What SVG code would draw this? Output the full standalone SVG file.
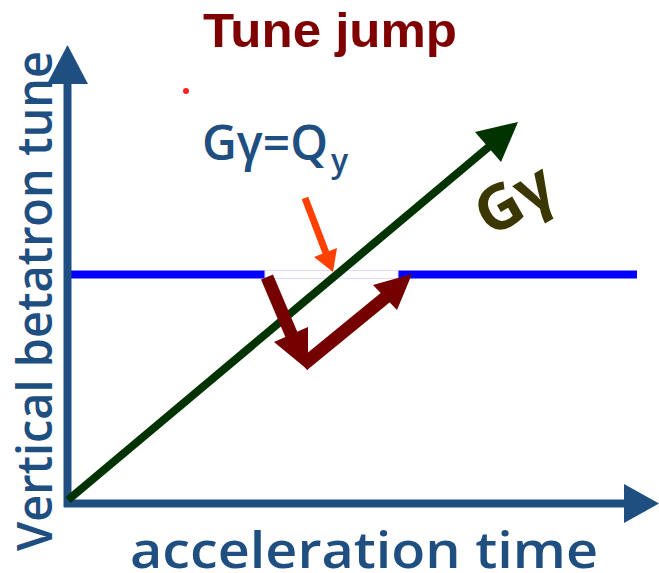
<svg xmlns="http://www.w3.org/2000/svg" width="659" height="573" viewBox="0 0 659 573">
<style>
.axis{stroke:#1f4e80;stroke-width:8;fill:none}
.axhead{fill:#1f4e80}
.lbl{font-family:"Open Sans","Liberation Sans",sans-serif;fill:#1f4e80;font-weight:600}
</style>
<rect width="659" height="573" fill="#fff"/>
<g id="title"><text x="330" y="47" text-anchor="middle" font-family="'Liberation Sans',Arial,sans-serif" font-weight="bold" font-size="48" fill="#7f0000" textLength="254" lengthAdjust="spacingAndGlyphs">Tune jump</text></g>
<g id="dot"><circle cx="186" cy="91" r="3" fill="#ff2020"/></g>
<g id="tuneline">
<line x1="66" y1="274.5" x2="637" y2="274.5" stroke="#0000ff" stroke-width="8"/>
<rect x="265" y="270.5" width="133" height="8" fill="#fff" stroke="#dcdcff" stroke-width="1"/>
</g>
<g id="connectors">
<line class="axis" x1="67.5" y1="507" x2="67.5" y2="80"/>
<polygon class="axhead" points="67.5,45 47,84 88,84"/>
<line class="axis" x1="64" y1="503.5" x2="626" y2="503.5"/>
<polygon class="axhead" points="624,484 659,503.5 624,523"/>
<line x1="68" y1="500" x2="491" y2="145" stroke="#003300" stroke-width="8"/>
<polygon points="518,122 475,132 501,162" fill="#003300"/>
<line x1="305" y1="198" x2="326" y2="253" stroke="#ff4000" stroke-width="7"/>
<polygon points="333,272 314,257 337,248" fill="#ff4000"/>
<line x1="267" y1="277" x2="292" y2="336" stroke="#750000" stroke-width="13"/>
<polygon points="308,370 274,342 308,327" fill="#750000"/>
<polyline points="303,365 386,297" stroke="#750000" stroke-width="13" fill="none"/>
<polygon points="412,274 373,285 397,310" fill="#750000"/>
</g>
<g id="resonance">
<text x="202" y="160" class="lbl" font-size="48" textLength="126" lengthAdjust="spacingAndGlyphs">Gγ=Q</text>
<text x="331" y="172" class="lbl" font-size="32">y</text>
</g>
<g id="ggamma"><text x="0" y="0" transform="translate(490,238) rotate(-30)" font-family="'Open Sans','Liberation Sans',sans-serif" font-weight="bold" font-size="62" fill="#3a3800">Gγ</text></g>
<g id="ylabel"><text x="0" y="0" transform="translate(52,551) rotate(-90)" class="lbl" font-size="48" textLength="500" lengthAdjust="spacingAndGlyphs">Vertical betatron tune</text></g>
<g id="xlabel"><text x="130" y="568" class="lbl" font-size="50" textLength="468" lengthAdjust="spacingAndGlyphs">acceleration time</text></g>
</svg>
